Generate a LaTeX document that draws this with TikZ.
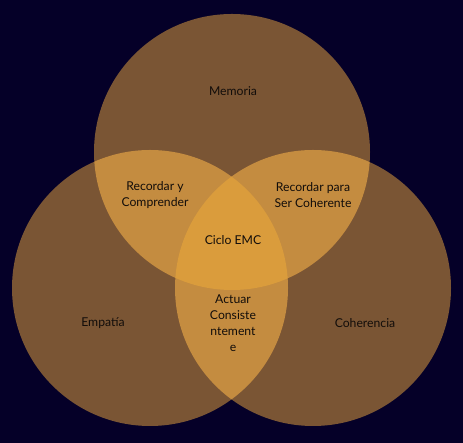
\documentclass[tikz,border=0pt]{standalone}
\usepackage{fontspec}
\setmainfont{Lato}
\definecolor{bg}{HTML}{050028}
\definecolor{one}{HTML}{7A5534}
\definecolor{two}{HTML}{C48C40}
\definecolor{three}{HTML}{DA9C3C}
\definecolor{ink}{HTML}{120D0A}
\begin{document}
\begin{tikzpicture}[x=1pt,y=1pt,
  lbl/.style={text=ink,font=\fontsize{12.2}{16}\selectfont,align=center,inner sep=0pt}]
\fill[bg] (0,0) rectangle (463,443);
\useasboundingbox (0,0) rectangle (463,443);
\coordinate (T) at (232,291);
\coordinate (L) at (150,155);
\coordinate (R) at (313,155);
\def\rr{138}
\fill[one] (T) circle (\rr);
\fill[one] (L) circle (\rr);
\fill[one] (R) circle (\rr);
\begin{scope}
  \clip (T) circle (\rr);
  \fill[two] (L) circle (\rr);
  \fill[two] (R) circle (\rr);
\end{scope}
\begin{scope}
  \clip (L) circle (\rr);
  \fill[two] (R) circle (\rr);
\end{scope}
\begin{scope}
  \clip (T) circle (\rr);
  \clip (L) circle (\rr);
  \fill[three] (R) circle (\rr);
\end{scope}
\node[lbl] (mem) at (233,352) {Memoria};
\node[lbl] (rc) at (155,248) {Recordar y\\Comprender};
\node[lbl] (rs) at (313,248) {Recordar para\\Ser Coherente};
\node[lbl] (ciclo) at (233,203) {Ciclo EMC};
\node[lbl] (act) at (233,120) {Actuar\\Consiste\\ntement\\e};
\node[lbl] (emp) at (103,120) {Empatía};
\node[lbl] (coh) at (365,120) {Coherencia};
\end{tikzpicture}
\end{document}
